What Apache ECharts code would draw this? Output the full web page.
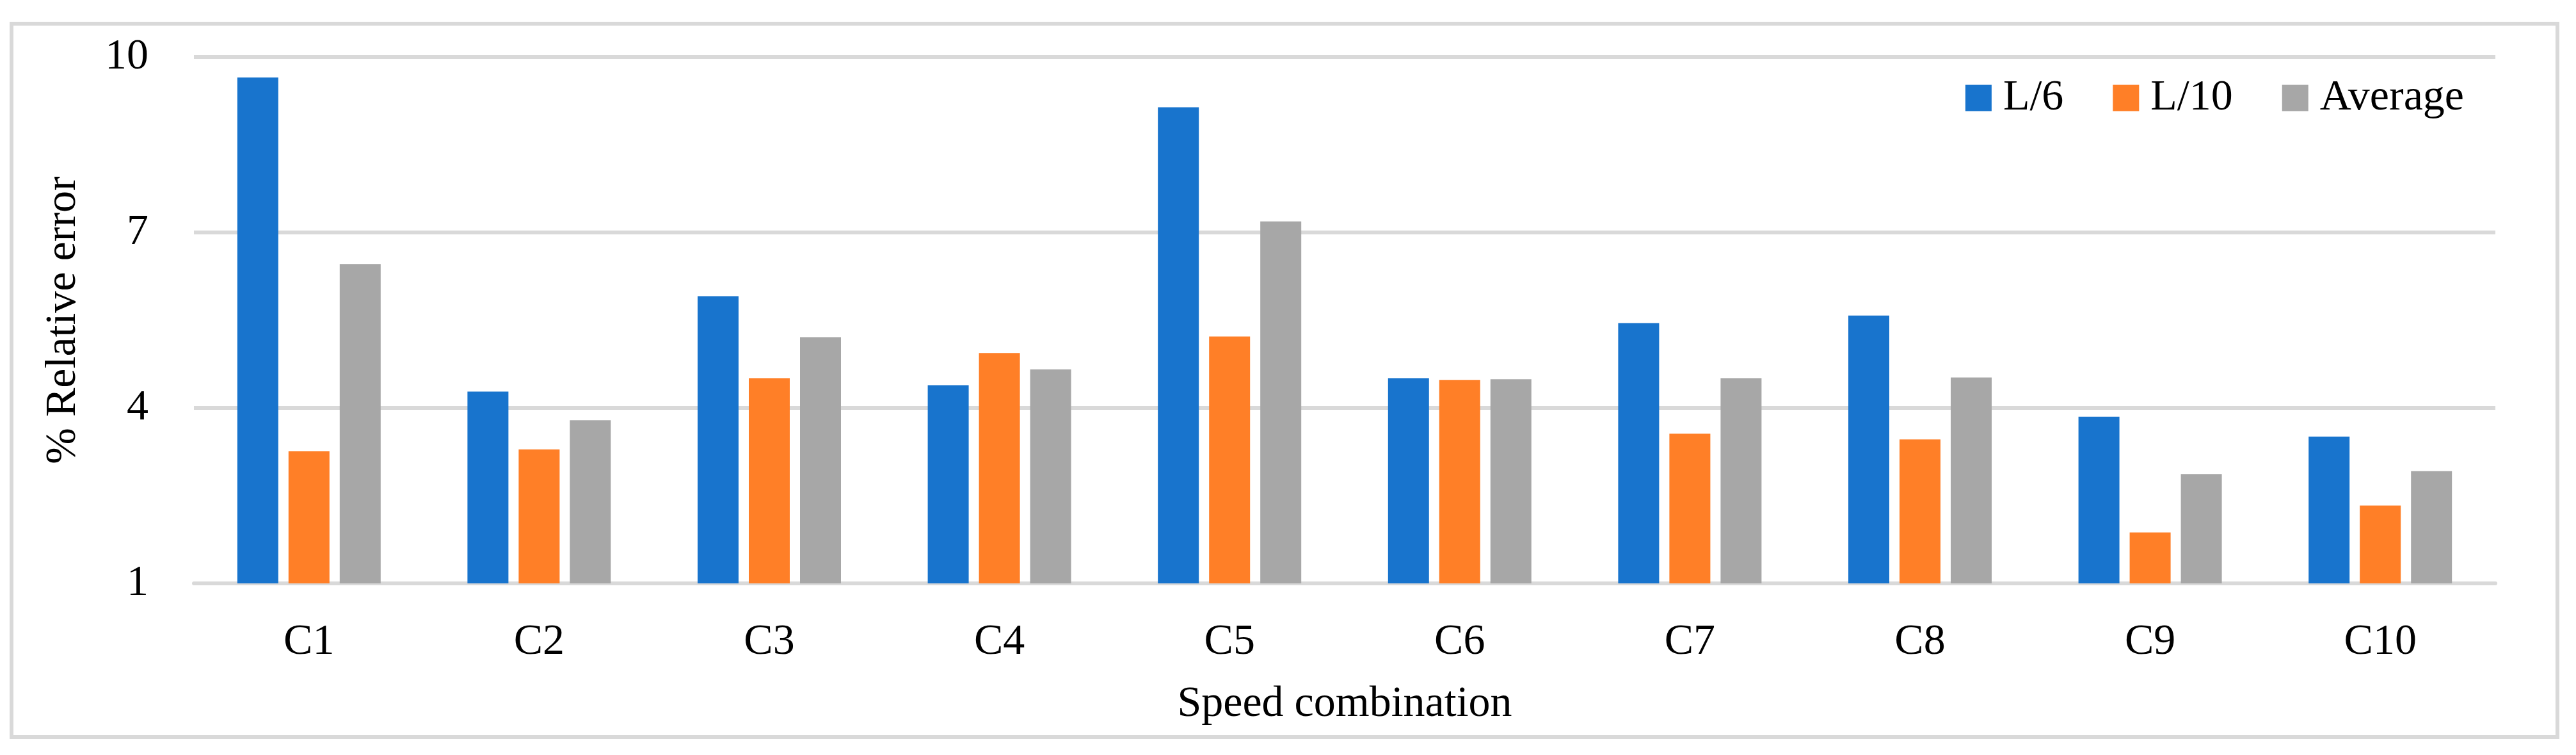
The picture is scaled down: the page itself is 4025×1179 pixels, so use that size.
<!DOCTYPE html>
<html>
<head>
<meta charset="utf-8">
<script src="https://cdn.jsdelivr.net/npm/echarts@6/dist/echarts.min.js"></script>
<style>html,body{margin:0;padding:0;background:#fff;}#c{width:4025px;height:1179px;}</style>
</head>
<body>
<div id="c"></div>
<script>
const categories = ['C1','C2','C3','C4','C5','C6','C7','C8','C9','C10'];
const seriesNames = ['L/6','L/10','Average'];
const valuesL6 = [9.65, 4.28, 5.91, 4.39, 9.14, 4.51, 5.45, 5.58, 3.85, 3.51];
const valuesL10 = [3.26, 3.29, 4.51, 4.94, 5.22, 4.48, 3.56, 3.46, 1.87, 2.33];
const valuesAvg = [6.46, 3.79, 5.21, 4.66, 7.19, 4.49, 4.51, 4.52, 2.87, 2.92];
const yTicks = [1, 4, 7, 10];

const FONT = '"Liberation Serif", "DejaVu Serif", serif';
const chart = echarts.init(document.getElementById('c'), null, {renderer: 'canvas'});
const colors = ['#1874cd', '#ff7f27', '#a7a7a7'];
const data = [valuesL6, valuesL10, valuesAvg];

chart.setOption({
  animation: false,
  backgroundColor: '#ffffff',
  graphic: [{
    type: 'rect',
    shape: {x: 18, y: 37, width: 3978, height: 1114},
    style: {fill: 'none', stroke: '#d9d9d9', lineWidth: 6},
    z: -1
  }],
  legend: {
    top: 119,
    right: 175,
    padding: 0,
    itemWidth: 41,
    itemHeight: 41,
    itemGap: 77,
    icon: 'rect',
    data: seriesNames,
    textStyle: {fontFamily: FONT, fontSize: 68, color: '#000', padding: [0, 0, 0, 13]}
  },
  grid: {left: 303, right: 126, top: 89, bottom: 268, containLabel: false},
  xAxis: {
    type: 'category',
    data: categories,
    name: 'Speed combination',
    nameLocation: 'middle',
    nameGap: 155,
    nameTextStyle: {fontFamily: FONT, fontSize: 68, color: '#000'},
    axisLine: {show: true, lineStyle: {color: '#d9d9d9', width: 6}},
    axisTick: {show: false},
    axisLabel: {fontFamily: FONT, fontSize: 68, color: '#000', margin: 58}
  },
  yAxis: {
    type: 'value',
    min: yTicks[0],
    max: yTicks[yTicks.length - 1],
    interval: yTicks[1] - yTicks[0],
    name: '% Relative error',
    nameLocation: 'middle',
    nameGap: 170,
    nameRotate: 90,
    nameTextStyle: {fontFamily: FONT, fontSize: 68, color: '#000'},
    axisLine: {show: false},
    axisTick: {show: false},
    axisLabel: {fontFamily: FONT, fontSize: 68, color: '#000', margin: 71},
    splitLine: {show: true, lineStyle: {color: '#d9d9d9', width: 6}}
  },
  series: seriesNames.map((n, i) => ({
    name: n,
    type: 'bar',
    data: data[i],
    barWidth: 64,
    barGap: '25%',
    itemStyle: {color: colors[i]}
  }))
});
</script>
</body>
</html>
